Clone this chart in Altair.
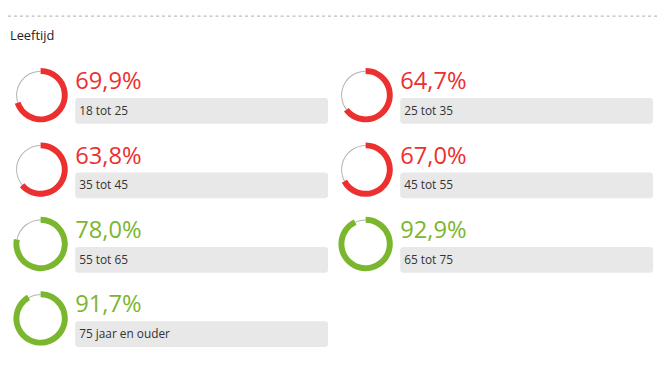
import math
import altair as alt
import pandas as pd

# ---- data ----
categories = ["18 tot 25", "25 tot 35", "35 tot 45", "45 tot 55",
              "55 tot 65", "65 tot 75", "75 jaar en ouder"]
values = [69.9, 64.7, 63.8, 67.0, 78.0, 92.9, 91.7]
cols = [0, 1, 0, 1, 0, 1, 0]
rows = [0, 0, 1, 1, 2, 2, 3]
title_text = ["Leeftijd"]

RED = "#ec2f2f"
GREEN = "#7ab62e"

df = pd.DataFrame({
    "categorie": categories,
    "value": values,
    "col": cols,
    "row": rows,
})
df["start"] = 0.0
df["full"] = 100.0
df["pct"] = [f"{v:.1f}".replace(".", ",") + "%" for v in values]
df["status"] = ["laag" if v < 70 else "hoog" for v in values]

W, H = 659, 322

x_enc = alt.X("col:Q", scale=alt.Scale(domain=[0, 1], range=[33, 362]), axis=None)
y_enc = alt.Y("row:Q", scale=alt.Scale(domain=[0, 3], range=[46, 272]), axis=None)
theta_scale = alt.Scale(domain=[0, 100], range=[0, 2 * math.pi])
color_enc = alt.Color("status:N", scale=alt.Scale(domain=["laag", "hoog"], range=[RED, GREEN]),
                      legend=None)

base = alt.Chart(df)

rest = base.mark_arc(radius=24.8, radius2=23.8, color="#b3b3b3").encode(
    x=x_enc, y=y_enc,
    theta=alt.Theta("value:Q", scale=theta_scale, stack=False),
    theta2="full:Q",
)

arc = base.mark_arc(radius=27.5, radius2=21.5).encode(
    x=x_enc, y=y_enc,
    theta=alt.Theta("start:Q", scale=theta_scale, stack=False),
    theta2="value:Q",
    color=color_enc,
)

box = base.mark_rect(color="#e8e8e8", cornerRadius=3,
                     xOffset=35, x2Offset=291, yOffset=3, y2Offset=29).encode(
    x=x_enc, x2="col:Q", y=y_enc, y2="row:Q",
)

pct = base.mark_text(align="left", baseline="alphabetic", dx=35, dy=-6,
                     font="Open Sans", fontSize=24, fontWeight=400).encode(
    x=x_enc, y=y_enc, text="pct:N", color=color_enc,
)

lab = base.mark_text(align="left", baseline="alphabetic", dx=39, dy=20,
                     font="Open Sans", fontSize=12, color="#333333").encode(
    x=x_enc, y=y_enc, text="categorie:N",
)

dash = alt.Chart(pd.DataFrame({"a": [0]})).mark_rule(
    color="#aaaaaa", strokeDash=[3, 3], strokeWidth=1).encode(
    x=alt.value(0), x2=alt.value(W), y=alt.value(-34),
)

title = alt.Chart(pd.DataFrame({"t": title_text})).mark_text(
    align="left", baseline="alphabetic", font="Open Sans", fontSize=13,
    color="#222222").encode(
    x=alt.value(2), y=alt.value(-10), text="t:N",
)

chart = alt.layer(dash, title, rest, arc, box, pct, lab).properties(
    width=W, height=H,
    autosize=alt.AutoSizeParams(type="none"),
    padding={"left": 0, "top": 40, "right": 0, "bottom": 0},
).configure_view(stroke=None)

chart.save("out.html", embed_options={"renderer": "svg", "actions": False})
